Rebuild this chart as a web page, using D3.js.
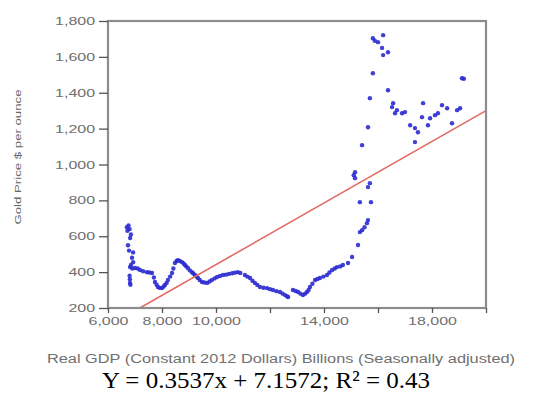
<!DOCTYPE html>
<html>
<head>
<meta charset="utf-8">
<script src="https://cdn.jsdelivr.net/npm/d3@7"></script>
<style>
  body { margin: 0; background: #fff; }
  svg { display: block; }
</style>
</head>
<body>
<div id="chart"></div>
<script>
// Real GDP (billions, 2012 dollars) and gold price ($/oz)
const gdp = [
  6700, 6720, 6760, 6800, 6850, 6820, 6740, 6780, 6930, 6890, 6930, 6850, 6815, 6900, 7000,
  6800, 6810, 6815, 6830,
  7100, 7185, 7300, 7440, 7530, 7630, 7700, 7740, 7800, 7850, 7920, 8000, 8060, 8110, 8170,
  8220, 8300, 8370, 8420, 8480, 8540, 8590, 8660, 8740, 8800, 8850, 8900, 8960, 9030, 9110,
  9160, 9220, 9280, 9330, 9400, 9480, 9570, 9670, 9760, 9850, 9950, 10040, 10150, 10260,
  10370, 10480, 10600, 10700, 10810, 10900, 11070, 11160, 11260, 11350, 11440, 11530, 11630,
  11760, 11890, 12000, 12110, 12240, 12370, 12470, 12560, 12630, 12670, 12850, 12950, 13040,
  13130, 13220, 13300, 13370, 13430, 13480, 13570, 13670, 13760, 13850, 13980, 14110, 14200,
  14300, 14400, 14480, 14600, 14700, 14890, 15040,
  15260, 15330, 15410, 15500, 15590, 15630, 15330, 15740, 15630, 15700, 15150, 15100, 15150,
  15410, 15630, 15700, 15810, 15810, 15880, 16000, 16190, 16190, 16150, 16370, 16370, 16520,
  16630, 16560, 16700, 16890, 17000, 17190, 17370, 17480, 17370, 17670, 17630, 17850, 17930,
  18110, 18220, 18370, 18560, 18740, 18930, 19040, 19110, 19180
];
const gold = [
  650, 630, 660, 640, 610, 590, 550, 520, 510, 480, 455, 440, 428, 420, 423,
  380, 360, 340, 330,
  420, 412, 405, 400, 398, 395, 370, 345, 330, 317, 312, 311, 320, 328, 340,
  356, 375, 395, 420, 451, 462, 467, 462, 456, 448, 440, 432, 423, 410, 400,
  392, 384, 375, 367, 356, 345, 342, 340, 348, 356, 365, 373, 378, 384,
  386, 390, 394, 397, 400, 395, 384, 375, 367, 352, 340, 328, 317,
  313, 311, 305, 300, 294, 289, 280, 272, 265, 261, 300, 295, 289,
  280, 272, 280, 289, 300, 317, 335, 356, 362, 367, 375, 384, 398,
  412, 420, 428, 432, 440, 451, 484,
  551, 623, 634, 650, 673, 690, 790, 790, 874, 896, 924, 940, 957,
  1108, 1208, 1370, 1509, 1704, 1690, 1682, 1721, 1610, 1650, 1626, 1414, 1320,
  1286, 1342, 1303, 1286, 1292, 1219, 1203, 1180, 1125, 1342, 1264, 1219, 1258,
  1275, 1286, 1331, 1314, 1230, 1303, 1314, 1481, 1478
];

// fitted line end points
const fitX = [7180, 20000];
const fitY = [200, 1300];

const xTicks = [6000, 8000, 10000, 12000, 14000, 16000, 18000, 20000];
const xTickLabels = ['6,000', '8,000', '10,000', '', '14,000', '', '18,000', ''];
const yTicks = [200, 400, 600, 800, 1000, 1200, 1400, 1600, 1800];

const width = 550;
const height = 396;
const margin = { left: 108, right: 64, top: 21, bottom: 88 };
const innerW = width - margin.left - margin.right;
const innerH = height - margin.top - margin.bottom;

const svg = d3.select('#chart')
  .append('svg')
  .attr('width', width)
  .attr('height', height);

const x = d3.scaleLinear().domain([6000, 20000]).range([margin.left, margin.left + innerW]);
const y = d3.scaleLinear().domain([200, 1800]).range([margin.top + innerH, margin.top]);

// clip for the fit line
svg.append('clipPath').attr('id', 'plotClip')
  .append('rect')
  .attr('x', margin.left).attr('y', margin.top)
  .attr('width', innerW).attr('height', innerH);

// points
svg.append('g')
  .selectAll('circle')
  .data(gdp.map((g, i) => [g, gold[i]]))
  .enter()
  .append('circle')
  .attr('cx', d => x(d[0]))
  .attr('cy', d => y(d[1]))
  .attr('r', 2.2)
  .attr('fill', '#2a2ad0')
  .attr('opacity', 0.9);

// fit line
svg.append('path')
  .datum(fitX.map((v, i) => [v, fitY[i]]))
  .attr('clip-path', 'url(#plotClip)')
  .attr('d', d3.line().x(d => x(d[0])).y(d => y(d[1])))
  .attr('fill', 'none')
  .attr('stroke', '#e26a62')
  .attr('stroke-width', 1.6);

// frame
svg.append('rect')
  .attr('x', margin.left).attr('y', margin.top)
  .attr('width', innerW).attr('height', innerH)
  .attr('fill', 'none')
  .attr('stroke', '#8c8c8c')
  .attr('stroke-width', 2.2);

// stretch the small grey labels sideways like the source image
function widen(sel, k) {
  sel.each(function() {
    const w = this.getComputedTextLength();
    d3.select(this).attr('textLength', w * k).attr('lengthAdjust', 'spacingAndGlyphs');
  });
}

// x axis
const xAxis = svg.append('g')
  .attr('transform', `translate(0, ${margin.top + innerH})`)
  .call(d3.axisBottom(x).tickValues(xTicks).tickFormat((d, i) => xTickLabels[i]).tickSize(5).tickPadding(4));
xAxis.select('.domain').remove();
xAxis.selectAll('line').attr('stroke', '#555').attr('stroke-width', 1.3);
xAxis.selectAll('text')
  .attr('fill', '#6e6e6e')
  .style('font-family', 'Liberation Sans, Arial, sans-serif')
  .style('font-size', '11px')
  .call(widen, 1.45);

// y axis
const yAxis = svg.append('g')
  .attr('transform', `translate(${margin.left}, 0)`)
  .call(d3.axisLeft(y).tickValues(yTicks).tickFormat(d3.format(',')).tickSize(9).tickPadding(4));
yAxis.select('.domain').remove();
yAxis.selectAll('line').attr('stroke', '#555').attr('stroke-width', 1.3);
yAxis.selectAll('text')
  .attr('fill', '#6e6e6e')
  .style('font-family', 'Liberation Sans, Arial, sans-serif')
  .style('font-size', '11px')
  .call(widen, 1.45);

// axis titles
svg.append('text')
  .attr('x', 281)
  .attr('y', 363)
  .attr('text-anchor', 'middle')
  .attr('fill', '#707070')
  .style('font-family', 'Liberation Sans, Arial, sans-serif')
  .style('font-size', '12px')
  .attr('textLength', 468)
  .attr('lengthAdjust', 'spacingAndGlyphs')
  .text('Real GDP (Constant 2012 Dollars) Billions (Seasonally adjusted)');

svg.append('text')
  .attr('transform', 'translate(21, 157) rotate(-90)')
  .attr('text-anchor', 'middle')
  .attr('fill', '#666')
  .style('font-family', 'Liberation Sans, Arial, sans-serif')
  .style('font-size', '9px')
  .attr('textLength', 135)
  .attr('lengthAdjust', 'spacingAndGlyphs')
  .text('Gold Price $ per ounce');

// equation
svg.append('text')
  .attr('x', 266)
  .attr('y', 388)
  .attr('text-anchor', 'middle')
  .attr('fill', '#000')
  .style('font-family', 'Liberation Serif, Times New Roman, serif')
  .style('font-size', '24px')
  .attr('textLength', 328)
  .attr('lengthAdjust', 'spacingAndGlyphs')
  .text('Y = 0.3537x + 7.1572; R² = 0.43');
</script>
</body>
</html>
